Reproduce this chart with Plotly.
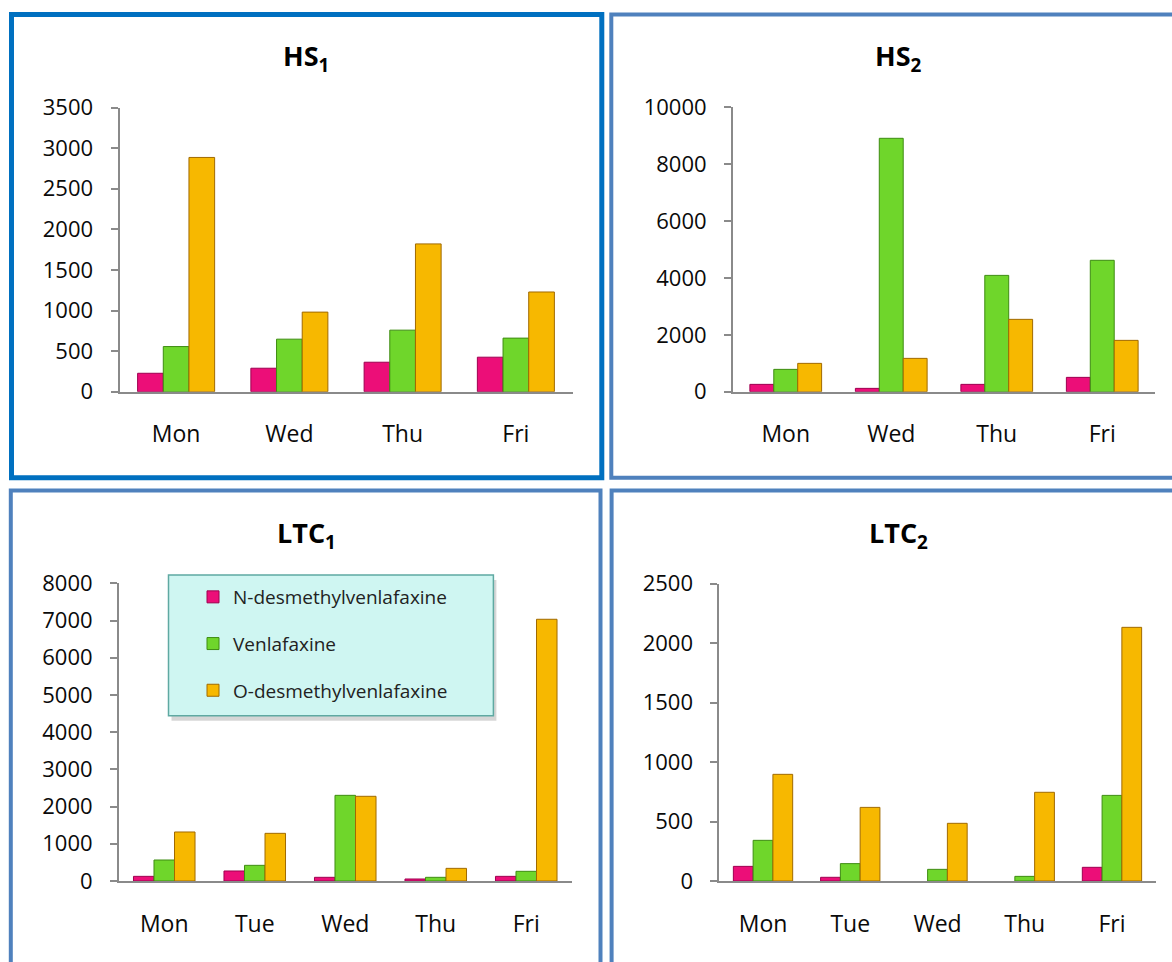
import plotly.graph_objects as go

W, H = 1172, 962

# ---- data ----
series_names = ["N-desmethylvenlafaxine", "Venlafaxine", "O-desmethylvenlafaxine"]

hs1_days = ["Mon", "Wed", "Thu", "Fri"]
hs1_ndes = [227, 289, 363, 425]
hs1_venl = [556, 647, 758, 660]
hs1_odes = [2885, 980, 1820, 1228]

hs2_days = ["Mon", "Wed", "Thu", "Fri"]
hs2_ndes = [258, 117, 258, 504]
hs2_venl = [785, 8910, 4090, 4620]
hs2_odes = [996, 1172, 2544, 1805]

ltc1_days = ["Mon", "Tue", "Wed", "Thu", "Fri"]
ltc1_ndes = [125, 269, 99, 54, 125]
ltc1_venl = [564, 421, 2302, 99, 260]
ltc1_odes = [1317, 1281, 2276, 340, 7033]

ltc2_days = ["Mon", "Tue", "Wed", "Thu", "Fri"]
ltc2_ndes = [123, 31, 0, 0, 115]
ltc2_venl = [342, 146, 98, 39, 720]
ltc2_odes = [897, 619, 485, 746, 2133]

# ---- styling ----
fill_colors = ["#EC0E78", "#6FD62B", "#F7B800"]
edge_colors = ["#9E0050", "#3E8C12", "#A06A00"]
FONT = "'Open Sans', Lato, sans-serif"
AXIS_GREY = "#8A8A8A"


def px_x(p):
    return p / W


def px_y(p):
    return 1 - p / H


panels = [
    # name, subscript, days, series, y max, dtick, x domain px, y domain px, title centre px
    ("HS", "1", hs1_days, [hs1_ndes, hs1_venl, hs1_odes], 3500, 500,
     (119.5, 572.5), (107.5, 391.7), (306, 58)),
    ("HS", "2", hs2_days, [hs2_ndes, hs2_venl, hs2_odes], 10000, 2000,
     (733, 1155), (107.3, 391.7), (898, 58)),
    ("LTC", "1", ltc1_days, [ltc1_ndes, ltc1_venl, ltc1_odes], 8000, 1000,
     (119, 571.5), (583.3, 881), (306, 534)),
    ("LTC", "2", ltc2_days, [ltc2_ndes, ltc2_venl, ltc2_odes], 2500, 500,
     (719.4, 1155.6), (583.7, 881), (898, 534)),
]

fig = go.Figure()
layout = dict(
    width=W, height=H,
    margin=dict(l=0, r=0, t=0, b=0, autoexpand=False),
    paper_bgcolor="white",
    plot_bgcolor="rgba(0,0,0,0)",
    barmode="group",
    bargap=0.32,
    bargroupgap=0,
    font=dict(family=FONT, color="#111111"),
    showlegend=True,
)

annotations = []
for i, (name, sub, days, series, ymax, dtick, xd, yd, tpos) in enumerate(panels):
    k = "" if i == 0 else str(i + 1)
    for j, vals in enumerate(series):
        fig.add_trace(go.Bar(
            x=days, y=vals, name=series_names[j],
            xaxis="x" + k, yaxis="y" + k,
            legendgroup=series_names[j],
            showlegend=(i == 2),
            marker=dict(color=fill_colors[j],
                        line=dict(color=edge_colors[j],
                                  width=[0 if v == 0 else 1 for v in vals])),
        ))
    layout["xaxis" + k] = dict(
        domain=[px_x(xd[0]), px_x(xd[1])],
        anchor="y" + k,
        type="category",
        range=[-0.5, len(days) - 0.5],
        showline=True, linecolor=AXIS_GREY, linewidth=2,
        ticks="", showgrid=False, zeroline=False,
        tickfont=dict(size=23, family=FONT, color="#0A0A0A"),
        ticklabelstandoff=21,
        automargin=False,
        fixedrange=True,
    )
    layout["yaxis" + k] = dict(
        domain=[px_y(yd[1]), px_y(yd[0])],
        anchor="x" + k,
        range=[0, ymax], dtick=dtick, tickformat="d",
        showline=True, linecolor=AXIS_GREY, linewidth=2,
        ticks="outside", ticklen=7, tickwidth=2, tickcolor=AXIS_GREY,
        showgrid=False, zeroline=False,
        tickfont=dict(size=22, family=FONT, color="#0A0A0A"),
        ticklabelstandoff=13,
        automargin=False,
        fixedrange=True,
    )
    annotations.append(dict(
        xref="paper", yref="paper",
        x=px_x(tpos[0]), y=px_y(tpos[1]),
        xanchor="center", yanchor="middle",
        text=f"<b>{name}<sub>{sub}</sub></b>",
        showarrow=False,
        font=dict(size=27, family=FONT, color="#000000"),
    ))

# panel frames
frames = [
    ((11.5, 14.5, 601.8, 477.7), "#0070C0", 5),
    ((611.3, 14.5, 1185, 477.7), "#4F81BD", 4),
    ((10.8, 490.5, 600.5, 975), "#4F81BD", 4),
    ((611.6, 490.5, 1185, 975), "#4F81BD", 4),
]
shapes = []
for (x0, y0, x1, y1), col, wdt in frames:
    shapes.append(dict(
        type="rect", xref="paper", yref="paper",
        x0=px_x(x0), x1=px_x(x1), y0=px_y(y1), y1=px_y(y0),
        line=dict(color=col, width=wdt), fillcolor="rgba(0,0,0,0)",
        layer="below",
    ))

# legend box with a soft shadow
lx0, ly0, lx1, ly1 = 168.5, 575, 493.4, 715.7
shapes.append(dict(
    type="rect", xref="paper", yref="paper",
    x0=px_x(lx0 + 3), x1=px_x(lx1 + 3), y0=px_y(ly1 + 5), y1=px_y(ly0 + 5),
    line=dict(width=0), fillcolor="rgba(0,0,0,0.16)", layer="above",
))
shapes.append(dict(
    type="rect", xref="paper", yref="paper",
    x0=px_x(lx0), x1=px_x(lx1), y0=px_y(ly1), y1=px_y(ly0),
    line=dict(color="#5FA9A2", width=1.5), fillcolor="#CFF6F2", layer="above",
))

layout["shapes"] = shapes
layout["annotations"] = annotations
layout["legend"] = dict(
    x=px_x(193), y=px_y(578),
    xanchor="left", yanchor="top",
    bgcolor="rgba(0,0,0,0)", borderwidth=0,
    font=dict(size=19, family=FONT, color="#222222"),
    tracegroupgap=19,
    traceorder="grouped",
    itemclick=False, itemdoubleclick=False,
)

fig.update_layout(**layout)
fig.write_html("out.html")
